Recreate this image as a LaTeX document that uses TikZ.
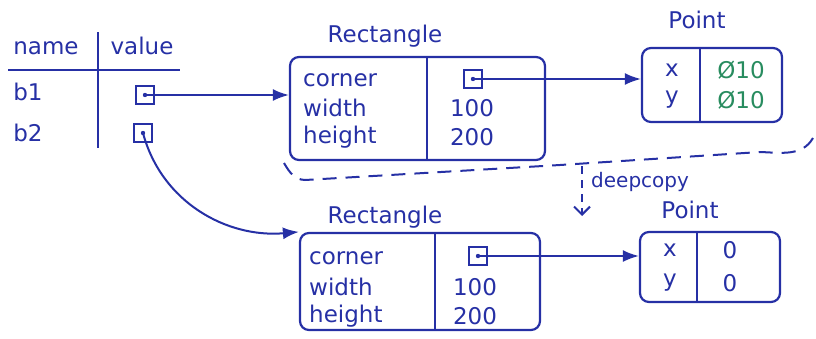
\documentclass[tikz,border=0pt]{standalone}
\usepackage{fontspec}
\setmainfont{DejaVu Sans}
\usetikzlibrary{arrows.meta, positioning, calc}
\definecolor{inkblue}{RGB}{38, 48, 165}
\definecolor{inkgreen}{RGB}{40, 140, 95}

\begin{document}
\begin{tikzpicture}[x=1pt, y=-1pt,
    every node/.style={text=inkblue, font=\fontsize{23}{28}\selectfont, inner sep=1pt},
    record/.style={draw=inkblue, line width=2.2pt, rounded corners=9pt, inner sep=0pt},
    ptrbox/.style={draw=inkblue, line width=2pt, minimum size=18pt, inner sep=0pt},
    link/.style={draw=inkblue, line width=2pt, -{Latex[length=16pt,width=12pt]}},
    rule/.style={draw=inkblue, line width=2pt}]
    \useasboundingbox (0,0) rectangle (816,338);

    % names table
    \node (hname) at (46,48) {name};
    \node (hvalue) at (142,46) {value};
    \draw[rule] (8,70) -- (180,70);
    \draw[rule] (98,32) -- (98,148);
    \node (b1) at (28,92) {b1};
    \node (b2) at (28,133) {b2};
    \node[ptrbox] (ptrb1) at (145,95) {};
    \node[ptrbox] (ptrb2) at (143,133) {};

    % original Rectangle
    \node (titleA) at (385,36) {Rectangle};
    \node[record, minimum width=255pt, minimum height=103pt] (rectA) at (417.5,108.5) {};
    \draw[rule] (427,57) -- (427,160);
    \node[anchor=west] (cornerA) at (302,80) {corner};
    \node[anchor=west] (widthA) at (302,108) {width};
    \node[anchor=west] (heightA) at (302,137) {height};
    \node[ptrbox] (ptrcA) at (473,79) {};
    \node (w100A) at (472,108) {100};
    \node (h200A) at (472,137) {200};

    % original Point
    \node (titleP) at (697,20) {Point};
    \node[record, minimum width=140pt, minimum height=74pt] (pointA) at (712,85) {};
    \draw[rule] (700,48) -- (700,122);
    \node (xA) at (672,70) {x};
    \node (yA) at (672,100) {y};
    \node[text=inkgreen] (xvA) at (741,70) {Ø10};
    \node[text=inkgreen] (yvA) at (741,100) {Ø10};

    % copied Rectangle
    \node (titleB) at (385,217) {Rectangle};
    \node[record, minimum width=240pt, minimum height=97pt] (rectB) at (420,281.5) {};
    \draw[rule] (435,233) -- (435,330);
    \node[anchor=west] (cornerB) at (308,258) {corner};
    \node[anchor=west] (widthB) at (308,287) {width};
    \node[anchor=west] (heightB) at (308,316) {height};
    \node[ptrbox] (ptrcB) at (478,256) {};
    \node (w100B) at (475,287) {100};
    \node (h200B) at (475,316) {200};

    % copied Point
    \node (titleQ) at (690,210) {Point};
    \node[record, minimum width=140pt, minimum height=70pt] (pointB) at (710,267) {};
    \draw[rule] (697,232) -- (697,302);
    \node (xB) at (670,250) {x};
    \node (yB) at (670,283) {y};
    \node (xvB) at (730,250) {0};
    \node (yvB) at (730,283) {0};

    % dots in the pointer boxes
    \foreach \p in {ptrb1, ptrb2, ptrcA, ptrcB}
        \fill[inkblue] (\p.center) circle (2.2pt);

    % references
    \draw[link] (ptrb1.center) -- (ptrb1.center -| rectA.west);
    \draw[link] (ptrcA.center) -- (ptrcA.center -| pointA.west);
    \draw[link] (ptrb2.center) to[out=-75, in=185] (rectB.north west);
    \draw[link] (ptrcB.center) -- (ptrcB.center -| pointB.west);

    % deepcopy brace
    \coordinate (braceL) at (284,163);
    \coordinate (braceM) at (582,166);
    \coordinate (braceR) at (813,138);
    \coordinate (copytip) at (582,216);
    \draw[rule, dash pattern=on 14pt off 9pt]
        (braceL) to[out=-60, in=178] (305,180) -- (560,165)
        -- (760,152) to[out=-2, in=-120] (braceR);
    \draw[rule, dash pattern=on 8pt off 6pt, -{Straight Barb[length=8pt,width=16pt]}]
        (braceM) -- (copytip);
    \node[anchor=west, font=\fontsize{20}{24}\selectfont] (deepcopy) at (590,182) {deepcopy};
\end{tikzpicture}
\end{document}
